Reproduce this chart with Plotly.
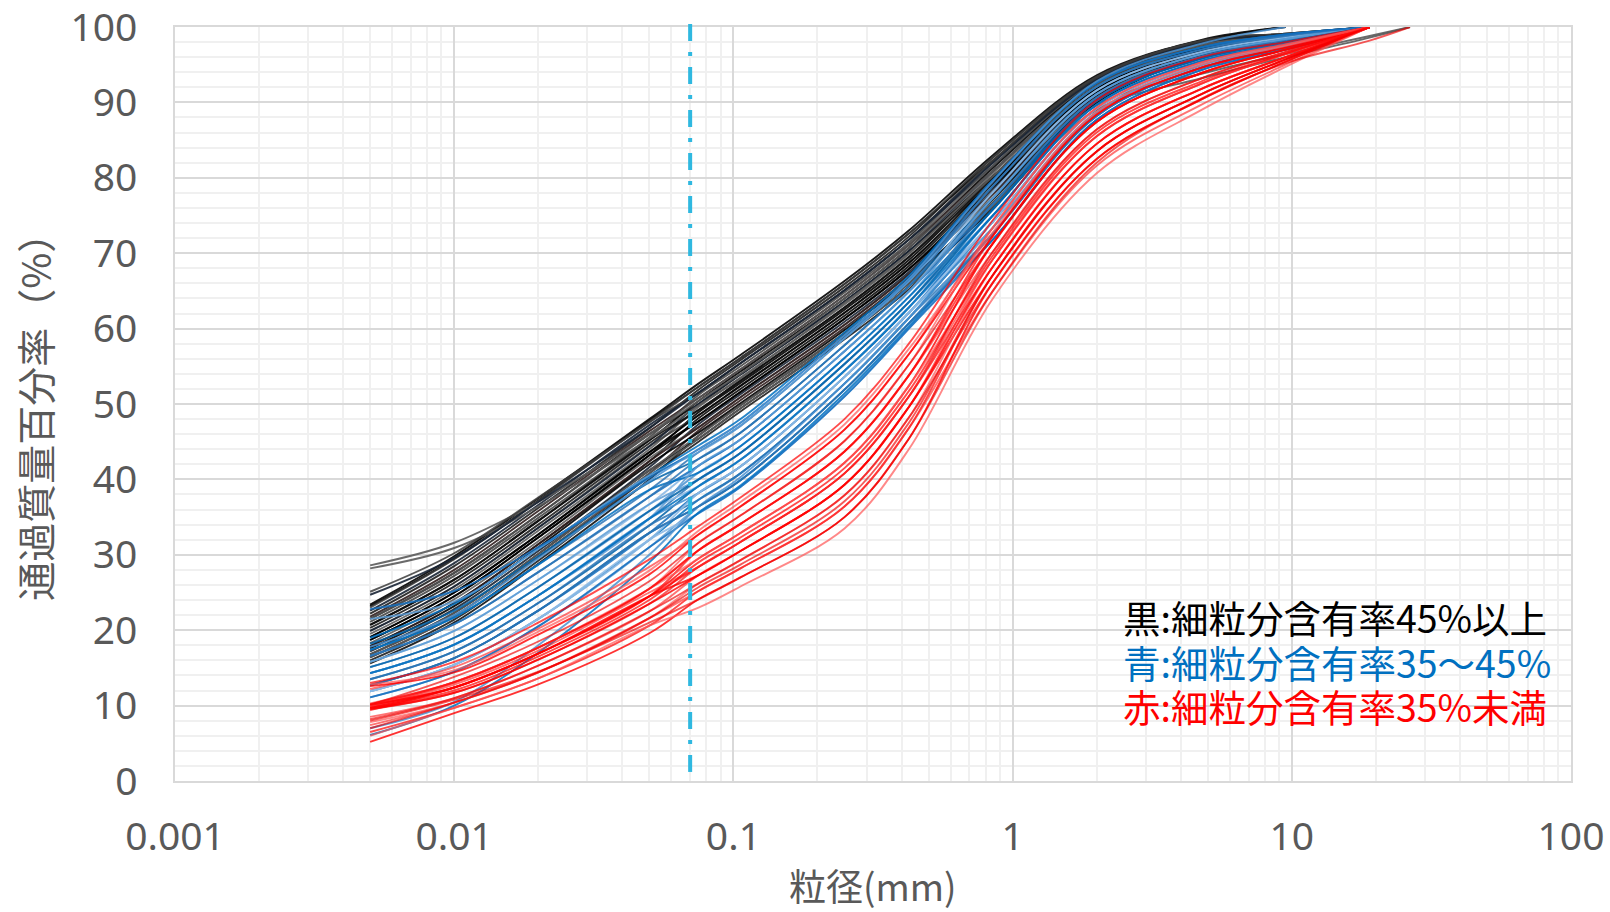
import math
import plotly.graph_objects as go

# Sieve / hydrometer particle sizes (mm), coarse to fine
SIZES = [26.5, 19, 9.5, 4.75, 2, 0.85, 0.425, 0.25, 0.106, 0.075, 0.05, 0.02, 0.01, 0.005]
N = None

# Percent passing, fines content >= 45 %
BLACK = [
    [N, N, 100, 98.3, 93.6, 83.0, 73.0, 66.3, 56.5, 52.7, 48.0, 37.5, 29.8, 23.4],
    [N, 100, 99.1, 98.2, 93.4, 82.7, 72.2, 65.5, 55.8, 51.9, 46.8, 36.2, 28.5, 22.2],
    [N, N, 100, 98.1, 93.2, 82.3, 72.6, 65.9, 56.1, 52.3, 47.8, 37.2, 29.5, 23.2],
    [N, 100, 99.0, 97.9, 93.0, 82.0, 71.4, 64.8, 55.0, 51.2, 45.6, 34.9, 27.2, 21.1],
    [N, 100, 98.9, 97.8, 92.9, 81.6, 71.8, 65.1, 55.4, 51.5, 47.2, 36.6, 28.9, 22.6],
    [N, 100, 98.9, 97.7, 92.7, 81.3, 70.7, 64.0, 54.3, 50.4, 45.2, 34.5, 26.7, 20.7],
    [N, 100, 98.8, 97.6, 92.5, 80.9, 71.1, 64.4, 54.6, 50.8, 46.4, 35.8, 28.0, 21.8],
    [N, 100, 98.7, 97.5, 92.3, 80.6, 69.9, 63.2, 53.5, 49.6, 44.0, 33.2, 25.4, 19.5],
    [N, 100, 98.6, 97.4, 92.1, 80.2, 70.3, 63.6, 53.9, 50.0, 46.0, 35.3, 27.6, 21.5],
    [N, 100, 98.6, 97.3, 91.9, 79.9, 69.1, 62.5, 52.8, 48.9, 43.2, 32.3, 24.5, 18.7],
    [N, 100, 98.5, 97.2, 91.8, 79.5, 69.5, 62.8, 53.1, 49.2, 44.8, 34.0, 26.3, 20.3],
    [N, 100, 98.4, 97.0, 91.6, 79.2, 68.3, 61.7, 52.0, 48.1, 42.4, 31.4, 23.6, 17.9],
    [N, 100, 98.4, 96.9, 91.4, 78.8, 68.7, 62.1, 52.4, 48.5, 44.4, 33.6, 25.8, 19.9],
    [N, 100, 98.3, 96.8, 91.2, 78.5, 67.5, 60.9, 51.3, 47.3, 41.6, 30.5, 22.8, 17.2],
    [N, 100, 98.2, 96.7, 91.0, 78.1, 67.9, 61.3, 51.6, 47.7, 43.6, 32.7, 25.0, 19.1],
    [N, 100, 98.2, 96.6, 90.8, 77.8, 66.8, 60.1, 50.5, 46.5, 40.8, 29.7, 21.9, 16.4],
    [N, 100, 98.1, 96.5, 90.6, 77.4, 67.2, 60.5, 50.9, 46.9, 42.8, 31.8, 24.1, 18.3],
    [N, 100, 98.0, 96.3, 90.5, 77.1, 66.0, 59.4, 49.8, 45.8, 40.0, 28.8, 21.0, 15.6],
    [N, 100, 97.9, 96.2, 90.3, 76.7, 66.4, 59.8, 50.1, 46.2, 42.0, 31.0, 23.2, 17.6],
    [N, 100, 97.9, 96.1, 90.1, 76.4, 65.2, 58.6, 49.0, 45.0, 40.4, 29.2, 21.4, 16.0],
    [N, 100, 97.8, 96.0, 89.9, 76.0, 65.6, 59.0, 49.4, 45.4, 41.2, 30.1, 22.3, 16.8],
    [N, 100, 99.1, 98.1, 93.2, 82.3, 71.8, 65.1, 55.4, 51.5, 47.6, 37.1, 29.4, 23.0],
    [N, 100, 98.8, 97.6, 92.5, 80.9, 70.3, 63.6, 53.9, 50.0, 44.4, 33.6, 25.8, 19.9],
    [N, 100, 98.5, 97.2, 91.8, 79.5, 68.7, 62.1, 52.4, 48.5, 43.6, 32.7, 25.0, 19.1],
    [N, 100, 98.2, 96.7, 91.0, 78.1, 67.2, 60.5, 50.9, 46.9, 42.4, 31.4, 23.6, 17.9],
    [N, 100, 98.9, 97.8, 92.9, 81.6, 71.1, 64.4, 54.6, 50.8, 46.0, 35.3, 27.6, 21.5],
    [N, 100, 98.6, 97.4, 92.1, 80.2, 69.5, 62.8, 53.1, 49.2, 45.2, 34.5, 26.7, 20.7],
    [N, 100, 98.4, 96.9, 91.4, 78.8, 67.9, 61.3, 51.6, 47.7, 43.2, 32.3, 24.5, 18.7],
    [N, 100, 98.8, 97.6, 92.5, 80.9, 70.7, 64.0, 54.0, 50.4, 46.0, 37.0, 31.6, 28.6],
    [N, 100, 98.6, 97.4, 92.1, 80.2, 70.0, 63.4, 53.4, 49.8, 45.4, 36.4, 30.9, 28.2],
    [N, 100, 99.1, 98.2, 93.4, 82.7, 72.6, 65.9, 56.1, 52.3, 47.6, 37.6, 30.2, 25.1],
    [N, 100, 99.0, 97.9, 93.0, 82.0, 71.8, 65.1, 55.4, 51.5, 46.8, 37.0, 29.6, 24.7],
    [100, 98.8, 96.4, 93.8, 89.6, 76.7, 66.0, 59.4, 49.8, 45.8, 41.2, 30.1, 22.3, 16.8],
    [100, 98.6, 96.0, 93.2, 89.0, 76.3, 65.6, 59.0, 49.4, 45.4, 40.8, 29.7, 21.9, 16.4],
]

# Percent passing, fines content 35-45 %
BLUE = [
    [N, 100, 99.0, 97.3, 92.6, 79.7, 67.0, 59.5, 48.0, 44.5, 40.5, 30.8, 23.5, 19.0],
    [N, 100, 98.8, 97.0, 92.1, 78.9, 66.3, 58.7, 47.1, 43.6, 38.6, 28.7, 21.7, 17.4],
    [N, 100, 98.6, 96.7, 91.6, 78.1, 66.3, 58.7, 47.1, 43.6, 40.5, 30.8, 23.8, 21.5],
    [N, 100, 98.4, 96.4, 91.1, 77.3, 65.6, 57.8, 46.2, 42.7, 39.6, 29.8, 22.6, 18.2],
    [N, 100, 98.6, 96.7, 91.6, 78.1, 64.9, 57.0, 45.3, 41.8, 36.7, 26.7, 19.9, 15.8],
    [N, 100, 98.2, 96.1, 90.6, 76.5, 64.9, 57.0, 45.3, 41.8, 37.7, 27.7, 20.8, 16.6],
    [N, 100, 98.4, 96.4, 91.1, 77.3, 64.2, 56.1, 44.4, 40.9, 35.8, 25.7, 19.0, 15.1],
    [N, 100, 98.0, 95.8, 90.2, 75.8, 64.2, 56.1, 44.4, 40.9, 38.6, 28.7, 21.7, 17.4],
    [N, 100, 98.2, 96.1, 90.6, 76.5, 63.5, 55.3, 43.5, 40.0, 34.8, 24.6, 18.1, 14.3],
    [N, 100, 97.8, 95.5, 89.7, 75.0, 63.5, 55.3, 43.5, 40.0, 36.7, 26.7, 19.9, 15.8],
    [N, 100, 98.0, 95.8, 90.2, 75.8, 62.8, 54.4, 42.6, 39.1, 33.9, 23.6, 17.2, 13.5],
    [N, 100, 97.6, 95.2, 89.2, 74.2, 62.8, 54.4, 42.6, 39.1, 35.8, 25.7, 19.0, 15.1],
    [N, 100, 97.8, 95.5, 89.7, 75.0, 62.1, 53.6, 41.7, 38.2, 32.9, 22.6, 16.3, 12.7],
    [N, 100, 97.4, 94.9, 88.7, 73.4, 62.1, 53.6, 41.7, 38.2, 34.8, 24.6, 18.1, 14.3],
    [N, 100, 97.6, 95.2, 89.2, 74.2, 61.4, 52.7, 40.8, 37.3, 32.0, 21.5, 15.4, 11.9],
    [N, 100, 97.2, 94.6, 88.2, 72.6, 61.4, 52.7, 40.8, 37.3, 33.9, 23.6, 17.2, 13.5],
    [N, 100, 97.4, 94.9, 88.7, 73.4, 60.7, 51.9, 39.9, 36.4, 31.0, 20.5, 14.5, 11.1],
    [N, 100, 97.0, 94.3, 87.7, 71.8, 60.7, 51.9, 39.9, 36.4, 32.9, 22.6, 16.3, 12.7],
    [N, 100, 97.2, 94.6, 88.2, 72.6, 60.0, 51.0, 39.0, 35.5, 32.0, 21.5, 15.4, 11.9],
    [N, 100, 97.0, 94.3, 87.7, 71.8, 60.0, 51.0, 39.0, 35.5, 31.0, 20.5, 14.5, 11.1],
    [N, 100, 97.6, 95.2, 89.2, 74.2, 61.4, 52.7, 40.3, 36.4, 30.0, 18.0, 10.5, 7.0],
    [N, 100, 97.2, 94.6, 88.2, 72.6, 60.3, 51.4, 39.2, 35.6, 29.0, 17.0, 10.0, 6.1],
    [N, 100, 98.8, 97.0, 92.1, 78.9, 65.6, 57.8, 46.2, 42.7, 37.7, 27.7, 20.8, 16.6],
    [N, 100, 98.4, 96.4, 91.1, 77.3, 64.9, 57.0, 45.3, 41.8, 34.8, 24.6, 18.1, 14.3],
    [N, 100, 98.0, 95.8, 90.2, 75.8, 63.5, 55.3, 43.5, 40.0, 35.8, 25.7, 19.0, 15.1],
    [N, 100, 97.6, 95.2, 89.2, 74.2, 62.1, 53.6, 41.7, 38.2, 32.0, 21.5, 15.4, 11.9],
    [N, 100, 99.0, 97.3, 92.6, 79.7, 66.6, 59.1, 47.5, 44.0, 40.2, 31.0, 25.2, 22.8],
    [N, N, 100, 97.8, 92.8, 79.5, 66.6, 59.1, 47.5, 44.0, 39.8, 29.5, 22.0, 17.8],
    [N, 100, 97.8, 95.5, 89.7, 75.0, 62.8, 54.4, 42.6, 39.1, 34.8, 24.6, 18.1, 14.3],
    [N, 100, 97.2, 94.6, 88.2, 72.6, 60.7, 51.9, 39.9, 36.4, 32.9, 22.6, 16.3, 12.7],
]

# Percent passing, fines content < 35 %
RED = [
    [N, 100, 98.0, 96.0, 90.3, 74.4, 58.0, 48.0, 37.6, 33.8, 29.4, 21.0, 15.8, 13.0],
    [N, 100, 97.7, 95.3, 89.3, 73.4, 56.6, 46.6, 36.4, 32.7, 28.4, 20.2, 15.1, 12.2],
    [N, 100, 97.3, 94.6, 88.4, 72.3, 56.6, 46.6, 36.4, 32.7, 27.4, 19.4, 14.4, 12.6],
    [N, 100, 97.7, 95.3, 89.3, 73.4, 55.2, 45.1, 35.2, 31.6, 25.5, 17.7, 13.1, 10.3],
    [N, 100, 97.0, 93.9, 87.4, 71.3, 55.2, 45.1, 35.2, 31.6, 26.5, 18.5, 13.8, 10.1],
    [N, 100, 97.3, 94.6, 88.4, 72.3, 53.8, 43.7, 34.1, 30.6, 24.5, 16.9, 12.4, 9.9],
    [N, 100, 96.7, 93.2, 86.4, 70.2, 53.8, 43.7, 34.1, 30.6, 25.5, 17.7, 13.1, 9.8],
    [N, 100, 97.0, 93.9, 87.4, 71.3, 52.4, 42.2, 32.9, 29.5, 24.5, 16.9, 12.4, 9.7],
    [N, 100, 96.4, 92.5, 85.5, 69.2, 52.4, 42.2, 32.9, 29.5, 25.5, 17.7, 13.1, 10.0],
    [N, 100, 96.7, 93.2, 86.4, 70.2, 51.0, 40.8, 31.7, 28.4, 23.5, 16.1, 11.7, 9.5],
    [N, 100, 96.0, 91.8, 84.5, 68.2, 51.0, 40.8, 31.7, 28.4, 24.5, 16.9, 12.4, 9.4],
    [N, 100, 96.4, 92.5, 85.5, 69.2, 49.6, 39.3, 30.5, 27.3, 22.5, 15.3, 11.0, 8.5],
    [N, 100, 95.7, 91.1, 83.5, 67.1, 49.6, 39.3, 30.5, 27.3, 23.5, 16.1, 11.7, 9.6],
    [N, 100, 96.0, 91.8, 84.5, 68.2, 48.2, 37.9, 29.3, 26.2, 21.6, 14.4, 10.4, 7.8],
    [N, 100, 95.4, 90.4, 82.5, 66.1, 48.2, 37.9, 29.3, 26.2, 22.5, 15.3, 11.0, 8.2],
    [N, 100, 95.7, 91.1, 83.5, 67.1, 46.8, 36.4, 28.2, 25.2, 20.6, 13.6, 9.7, 6.5],
    [N, 100, 95.0, 89.7, 81.6, 65.0, 46.8, 36.4, 28.2, 25.2, 21.6, 14.4, 10.4, 7.4],
    [N, 100, 95.4, 90.4, 82.5, 66.1, 45.4, 35.0, 27.0, 24.1, 19.6, 12.8, 9.0, 5.2],
    [N, 100, 94.7, 89.0, 80.6, 64.0, 44.0, 33.5, 25.8, 23.0, 20.6, 13.6, 9.7, 6.0],
    [100, 98.2, 95.2, 90.5, 82.0, 65.0, 45.4, 35.0, 27.0, 24.1, 21.0, 14.5, 10.8, 8.0],
    [N, 100, 97.0, 93.9, 87.4, 71.3, 53.8, 43.7, 34.1, 30.6, 25.5, 17.7, 13.1, 10.2],
    [N, 100, 96.4, 92.5, 85.5, 69.2, 51.0, 40.8, 31.7, 28.4, 25.0, 17.3, 12.8, 9.9],
    [N, 100, 96.0, 91.8, 84.5, 68.2, 49.6, 39.3, 30.5, 27.3, 24.5, 16.9, 12.4, 10.1],
    [N, 100, 97.5, 95.0, 88.8, 72.8, 57.3, 47.3, 37.0, 33.2, 27.9, 19.8, 14.7, 12.8],
    [N, 100, 95.7, 91.1, 83.5, 67.1, 47.5, 37.1, 28.7, 25.7, 21.6, 14.4, 10.4, 7.0],
    [N, 100, 96.5, 92.8, 86.0, 69.7, 51.7, 41.5, 32.3, 29.0, 24.0, 16.5, 12.0, 9.7],
]

# Reference line for the 0.075 mm sieve boundary, as drawn
FINES_LINE_MM = 0.07

LEGEND_LINES = ["黒:細粒分含有率45%以上", "青:細粒分含有率35～45%", "赤:細粒分含有率35%未満"]
LEGEND_COLORS = ["#000000", "#0070C0", "#FF0000"]

X_TICK_VALS = [0.001, 0.01, 0.1, 1, 10, 100]
X_TICK_TEXT = ["0.001", "0.01", "0.1", "1", "10", "100"]
Y_TICK_VALS = [0, 10, 20, 30, 40, 50, 60, 70, 80, 90, 100]
X_TITLE = "粒径(mm)"
Y_TITLE = "通過質量百分率（%）"

BLACK_SHADES = ["rgba(0,0,0,0.9)", "rgba(30,30,30,0.9)", "rgba(10,10,10,0.9)",
                "rgba(60,60,60,0.85)", "rgba(24,36,52,0.9)", "rgba(0,0,0,0.9)",
                "rgba(48,30,30,0.9)", "rgba(85,85,85,0.85)", "rgba(15,15,15,0.9)"]
BLUE_SHADES = ["rgba(0,112,192,0.85)", "rgba(46,117,182,0.85)", "rgba(91,155,213,0.85)",
               "rgba(0,98,168,0.85)", "rgba(140,185,228,0.9)", "rgba(20,110,190,0.85)",
               "rgba(74,144,208,0.85)"]
RED_SHADES = ["rgba(255,0,0,0.7)", "rgba(255,40,40,0.65)", "rgba(255,0,0,0.8)",
              "rgba(255,85,85,0.7)", "rgba(240,0,0,0.65)"]
OUTLIER_GRAY = "rgba(90,90,90,0.9)"

fig = go.Figure()


def add_group(rows, shades, special=None):
    special = special or {}
    for i, row in enumerate(rows):
        xs = [s for s, v in zip(SIZES, row) if v is not None]
        ys = [v for v in row if v is not None]
        color = special.get(i, shades[i % len(shades)])
        fig.add_trace(go.Scatter(
            x=xs, y=ys, mode="lines",
            line=dict(shape="spline", smoothing=1.0, width=1.9, color=color),
            hoverinfo="skip", showlegend=False,
        ))


add_group(BLACK, BLACK_SHADES, {28: OUTLIER_GRAY, 29: OUTLIER_GRAY, 32: OUTLIER_GRAY, 33: OUTLIER_GRAY})
add_group(BLUE, BLUE_SHADES)
add_group(RED, RED_SHADES)

# dash-dot boundary line (paper coords so it can run slightly above the frame)
x_paper = (math.log10(FINES_LINE_MM) + 3) / 5
fig.add_shape(type="line", xref="paper", yref="paper",
              x0=x_paper, x1=x_paper, y0=0.012, y1=1.016,
              line=dict(color="#2FB8E0", width=4, dash="17px,11px,4px,11px"))

for k, (txt, col) in enumerate(zip(LEGEND_LINES, LEGEND_COLORS)):
    fig.add_annotation(xref="paper", yref="paper", x=0.678, y=0.2188 - k * 0.0592,
                       xanchor="left", yanchor="middle", showarrow=False, text=txt,
                       height=42, valign="middle",
                       font=dict(family="Noto Sans CJK JP", size=37.5, color=col))

fig.add_annotation(xref="paper", yref="paper", x=0.5, y=-0.138, xanchor="center",
                   yanchor="middle", showarrow=False, text=X_TITLE,
                   font=dict(family="Noto Sans CJK JP", size=37, color="#595959"))
fig.add_annotation(xref="paper", yref="paper", x=-0.101, y=0.495, xanchor="center",
                   yanchor="middle", showarrow=False, text=Y_TITLE, textangle=-90,
                   font=dict(family="Noto Sans CJK JP", size=39, color="#595959"))

minor_x = [m * 10 ** e for e in range(-3, 2) for m in range(2, 10)]

fig.update_layout(
    width=1610, height=912,
    margin=dict(l=175, r=39, t=27, b=131, autoexpand=False),
    paper_bgcolor="white", plot_bgcolor="white",
    font=dict(family="Noto Sans", color="#595959"),
    xaxis=dict(
        type="log", range=[-3, 2], tickmode="array", tickvals=X_TICK_VALS, ticktext=X_TICK_TEXT,
        tickfont=dict(family="Noto Sans", size=39, color="#595959"),
        showgrid=True, gridcolor="#D9D9D9", gridwidth=1.5,
        minor=dict(tickvals=minor_x, showgrid=True, gridcolor="#F0F0F0", gridwidth=1.5),
        showline=True, linecolor="#D9D9D9", linewidth=2, mirror=True,
        ticks="", ticklabelstandoff=20, zeroline=False, ticklabeloverflow="allow",
        automargin=False,
    ),
    yaxis=dict(
        range=[0, 100], tickmode="array", tickvals=Y_TICK_VALS,
        tickfont=dict(family="Noto Sans", size=39, color="#595959"),
        showgrid=True, gridcolor="#D9D9D9", gridwidth=1.5,
        minor=dict(dtick=2, showgrid=True, gridcolor="#F0F0F0", gridwidth=1.5),
        showline=True, linecolor="#D9D9D9", linewidth=1.5, mirror=True,
        ticks="", ticklabelstandoff=28, zeroline=False, ticklabeloverflow="allow",
        automargin=False,
    ),
)

fig.write_html("out.html")
